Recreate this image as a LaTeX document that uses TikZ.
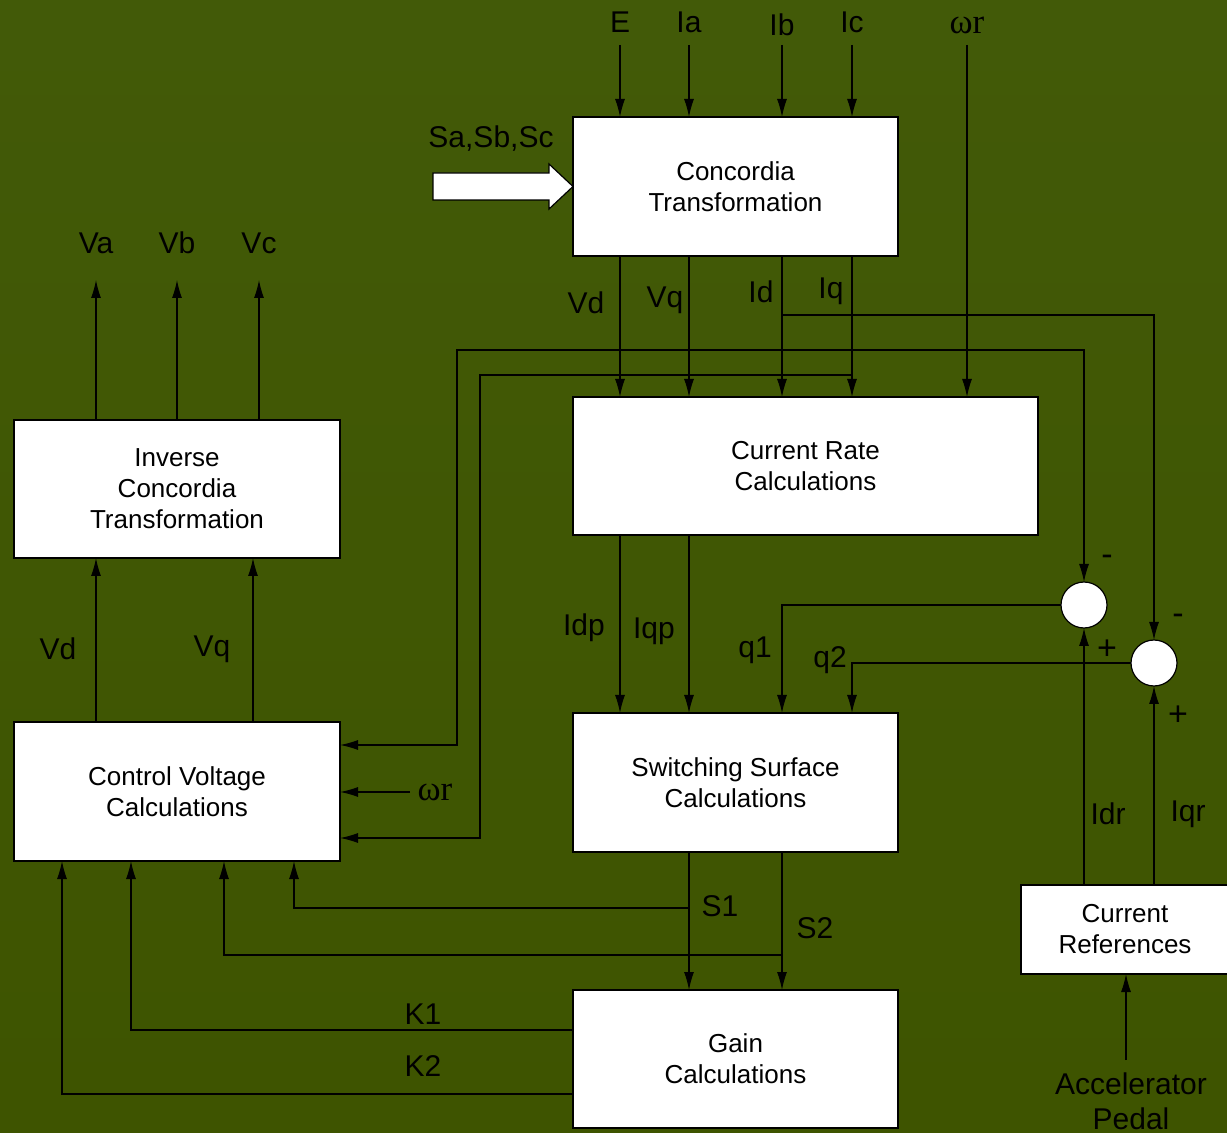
\documentclass[tikz,border=0pt]{standalone}
\usepackage{fontspec}
\setmainfont{Liberation Sans}
\newfontfamily\omegafont{Liberation Serif}
\usepackage{tikz}
\usetikzlibrary{positioning,calc,arrows.meta}

\definecolor{bgtop}{RGB}{66,90,8}
\definecolor{bgmid}{RGB}{51,70,6}
\definecolor{bgbot}{RGB}{62,84,0}

\tikzset{
  block/.style={draw, fill=white, line width=0.6pt, inner sep=0pt, outer sep=0pt,
    align=center, font=\fontsize{13}{15.5}\selectfont},
  sumnode/.style={circle, draw, fill=white, line width=0.6pt, minimum size=23pt,
    inner sep=0pt, outer sep=0pt},
  sig/.style={draw, line width=0.6pt, -{Latex[length=9pt,width=5pt]}},
  lbl/.style={inner sep=0pt, font=\fontsize{15}{17}\selectfont},
  sgn/.style={inner sep=0pt, font=\fontsize{17}{17}\selectfont},
  wlbl/.style={inner sep=0pt, font=\omegafont\fontsize{17.5}{17.5}\selectfont},
}

\begin{document}
\begin{tikzpicture}[x=0.5pt, y=-0.5pt]
\shade[top color=bgtop, middle color=bgmid, bottom color=bgbot] (0,0) rectangle (1227,1133);
\useasboundingbox (0,0) rectangle (1227,1133);

% blocks
\node[block, minimum width=162.5pt, minimum height=69.5pt] (conc) at (735.5,186.5) {Concordia\\Transformation};
\node[block, minimum width=232.5pt, minimum height=69pt] (rate) at (805.5,466) {Current Rate\\Calculations};
\node[block, minimum width=163pt, minimum height=69pt] (inv) at (177,489) {Inverse\\Concordia\\Transformation};
\node[block, minimum width=163pt, minimum height=69.5pt] (cvc) at (177,791.5) {Control Voltage\\Calculations};
\node[block, minimum width=162.5pt, minimum height=69.5pt] (ssc) at (735.5,782.5) {Switching Surface\\Calculations};
\node[block, minimum width=162.5pt, minimum height=69pt] (gain) at (735.5,1059) {Gain\\Calculations};
\node[block, minimum width=104pt, minimum height=44.5pt] (crf) at (1125,929.5) {Current\\References};
\node[sumnode] (sum1) at (1084,605) {};
\node[sumnode] (sum2) at (1154,663) {};

% columns
\coordinate (colA) at (620,0);
\coordinate (colB) at (689,0);
\coordinate (colC) at (782,0);
\coordinate (colD) at (852,0);

% inputs of the Concordia block
\foreach \n/\x/\y in {E/620/22, Ia/689/22, Ib/782/25, Ic/852/22} {
  \node[lbl] (l\n) at (\x,\y) {\n};
  \coordinate (in\n) at (\x,45);
  \draw[sig] (in\n) -- (in\n |- conc.north);
}
\node[wlbl] (lWr) at (967,25) {ωr};
\coordinate (inWr) at (967,45);
\draw[sig] (inWr) -- (inWr |- rate.north);

\node[lbl] (lS) at (491,139) {Sa,Sb,Sc};
\draw[line width=0.6pt, fill=white] (433,173) -- (549,173) -- (549,164) -- (conc.west)
  -- (549,209) -- (549,200) -- (433,200) -- cycle;

% Concordia -> Current Rate
\foreach \c in {colA,colB,colC,colD}
  \draw[sig] (conc.south -| \c) -- (rate.north -| \c);
\node[lbl] (lVd) at (586,303) {Vd};
\node[lbl] (lVq) at (665,300) {Vq};
\node[lbl] (lId) at (761,292) {Id};
\node[lbl] (lIq) at (831,291) {Iq};

% feedback of Id, Iq
\coordinate (jId) at (782,315);
\coordinate (jId2) at (782,350);
\coordinate (jIq) at (852,375);
\draw[sig] (jId) -| (sum2.north);
\draw[sig] (jId2) -| (sum1.north);
\draw[sig] (jId2) -- (457,350) |- ($(cvc.east)+(0,-46.5)$);
\draw[sig] (jIq) -- (480,375) |- ($(cvc.east)+(0,46.5)$);
\coordinate (inWr2) at (410,792);
\node[wlbl] (lWr2) at (435,792) {ωr};
\draw[sig] (inWr2) -- (inWr2 -| cvc.east);

% Current Rate -> Switching Surface
\draw[sig] (rate.south -| colA) -- (ssc.north -| colA);
\draw[sig] (rate.south -| colB) -- (ssc.north -| colB);
\node[lbl] (lIdp) at (584,628) {Idp};
\node[lbl] (lIqp) at (654,631) {Iqp};

% summing points
\draw[sig] (sum1.west) -| (ssc.north -| colC);
\draw[sig] (sum2.west) -| (ssc.north -| colD);
\node[lbl] (lq1) at (755,650) {q1};
\node[lbl] (lq2) at (830,660) {q2};
\draw[sig] (crf.north -| sum1) -- (sum1.south);
\draw[sig] (crf.north -| sum2) -- (sum2.south);
\node[lbl] (lIdr) at (1108,814) {Idr};
\node[lbl] (lIqr) at (1188,814) {Iqr};
\node[sgn] (m1) at (1107,560) {-};
\node[sgn] (p1) at (1107,650) {+};
\node[sgn] (m2) at (1178,619) {-};
\node[sgn] (p2) at (1178,716) {+};

\node[lbl, align=center, font=\fontsize{15}{17.5}\selectfont] (lAcc) at (1131,1101) {Accelerator\\Pedal};
\coordinate (inAcc) at (1126,1060);
\draw[sig] (inAcc) -- (inAcc |- crf.south);

% Switching Surface -> Gain, Control Voltage
\draw[sig] (ssc.south -| colB) -- (gain.north -| colB);
\draw[sig] (ssc.south -| colC) -- (gain.north -| colC);
\coordinate (jS1) at (689,908);
\coordinate (jS2) at (782,955);
\draw[sig] (jS1) -| ($(cvc.south west)+(280,0)$);
\draw[sig] (jS2) -| ($(cvc.south west)+(210,0)$);
\node[lbl] (lS1) at (720,906) {S1};
\node[lbl] (lS2) at (815,928) {S2};

% Gain -> Control Voltage
\draw[sig] ($(gain.west)+(0,-29)$) -| ($(cvc.south west)+(117,0)$);
\draw[sig] ($(gain.west)+(0,35)$) -| ($(cvc.south west)+(48,0)$);
\node[lbl] (lK1) at (423,1014) {K1};
\node[lbl] (lK2) at (423,1066) {K2};

% Control Voltage -> Inverse Concordia
\draw[sig] ($(cvc.north west)+(82,0)$) -- ($(inv.south west)+(82,0)$);
\draw[sig] ($(cvc.north west)+(239,0)$) -- ($(inv.south west)+(239,0)$);
\node[lbl] (lVd2) at (58,649) {Vd};
\node[lbl] (lVq2) at (212,649) {Vq};

% outputs
\foreach \n/\x in {Va/96, Vb/177, Vc/259} {
  \coordinate (out\n) at (\x,280);
  \draw[sig] (out\n |- inv.north) -- (out\n);
  \node[lbl] (l\n) at (\x,243) {\n};
}
\end{tikzpicture}
\end{document}
